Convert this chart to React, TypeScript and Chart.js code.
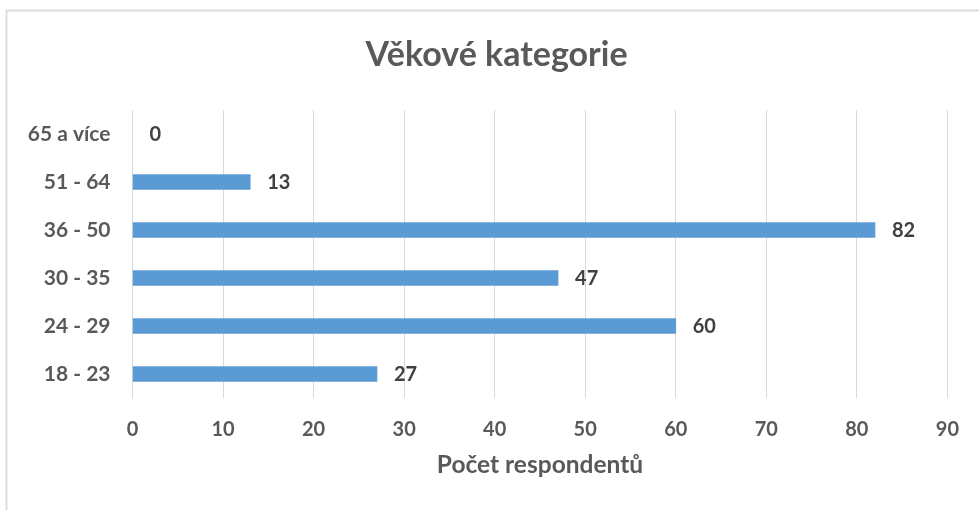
import React, { useEffect, useRef } from "react";
import { Chart, registerables } from "chart.js";

Chart.register(...registerables);

const categories = ["65 a více", "51 - 64", "36 - 50", "30 - 35", "24 - 29", "18 - 23"];
const counts = [0, 13, 82, 47, 60, 27];
const xTicks = { min: 0, max: 90, step: 10 };
const chartTitle = "Věkové kategorie";
const xTitle = "Počet respondentů";

const FONT = "Lato";
const W = "bold";
const GRAY = "#595959";
const DARK = "#404040";
const GRID = "#d9d9d9";
const BAR = "#5b9bd5";

const frame = {
  id: "frame",
  beforeDraw(chart: any) {
    const ctx = chart.ctx;
    ctx.save();
    ctx.fillStyle = "#ffffff";
    ctx.fillRect(0, 0, chart.width, chart.height);
    ctx.strokeStyle = "#dcdcdc";
    ctx.lineWidth = 2;
    ctx.strokeRect(6.5, 10.5, chart.width + 40, chart.height + 40);
    ctx.restore();
  },
  afterDraw(chart: any) {
    const ctx = chart.ctx;
    ctx.save();
    ctx.font = `${W} 34px ${FONT}`;
    ctx.fillStyle = GRAY;
    ctx.textAlign = "center";
    ctx.textBaseline = "middle";
    ctx.fillText(chartTitle, 496.5, 55);
    ctx.restore();
  },
};

const valueLabels = {
  id: "valueLabels",
  afterDatasetsDraw(chart: any) {
    const ctx = chart.ctx;
    const meta = chart.getDatasetMeta(0);
    const data = chart.data.datasets[0].data;
    ctx.save();
    ctx.font = `${W} 20px ${FONT}`;
    ctx.fillStyle = DARK;
    ctx.textAlign = "left";
    ctx.textBaseline = "middle";
    meta.data.forEach((el: any, i: number) => {
      ctx.fillText(String(data[i]), el.x + 17, el.y + 1);
    });
    ctx.restore();
  },
};

export default function App() {
  const ref = useRef<HTMLCanvasElement | null>(null);
  useEffect(() => {
    document.body.style.margin = "0";
    if (!ref.current) return;
    const chart = new Chart(ref.current, {
      type: "bar",
      data: {
        labels: categories,
        datasets: [
          {
            data: counts,
            backgroundColor: (c: any) => (c.raw === 0 ? "rgba(0,0,0,0)" : BAR),
            borderWidth: 0,
            barThickness: 15,
          },
        ],
      },
      options: {
        indexAxis: "y",
        animation: false,
        responsive: false,
        layout: { padding: { left: 0, right: 31.5, top: 110, bottom: 30 } },
        plugins: {
          legend: { display: false },
          tooltip: { enabled: false },
          title: { display: false },
        },
        scales: {
          x: {
            min: xTicks.min,
            max: xTicks.max,
            ticks: {
              stepSize: xTicks.step,
              color: GRAY,
              padding: 20,
              font: { family: FONT, size: 20, weight: W },
            },
            grid: { color: GRID, lineWidth: 1, drawTicks: false },
            border: { display: false },
            title: {
              display: true,
              text: xTitle,
              color: GRAY,
              padding: { top: 0, bottom: 0 },
              font: { family: FONT, size: 24.5, weight: W },
            },
            afterFit(scale: any) {
              scale.height = 82;
            },
          },
          y: {
            ticks: {
              color: GRAY,
              padding: 22,
              font: { family: FONT, size: 21, weight: W },
            },
            grid: { display: false, drawTicks: false },
            border: { display: true, color: GRID, width: 1 },
            afterFit(scale: any) {
              scale.width = 132.5;
            },
          },
        },
      },
      plugins: [frame, valueLabels],
    });
    return () => chart.destroy();
  }, []);
  return (
    <div style={{ width: 979, height: 510 }}>
      <canvas ref={ref} width={979} height={510} />
    </div>
  );
}
